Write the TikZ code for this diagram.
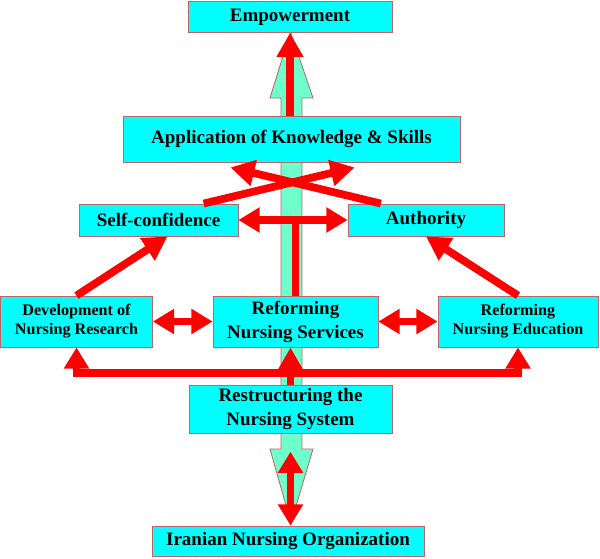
\documentclass[tikz,border=0pt]{standalone}
\usepackage{fontspec}
\setmainfont{Liberation Serif}
\usetikzlibrary{arrows.meta,calc}
\definecolor{boxcyan}{RGB}{0,255,255}
\definecolor{boxedge}{RGB}{190,100,100}
\definecolor{mint}{RGB}{110,255,205}

\begin{document}
\begin{tikzpicture}[x=0.025cm,y=-0.025cm,
  box/.style={draw=boxedge,fill=boxcyan,line width=0.6pt,inner sep=0pt,align=center,
    font=\fontsize{13.5}{17}\selectfont\bfseries},
  smallbox/.style={box,font=\fontsize{11.5}{13.5}\selectfont\bfseries},
  redline/.style={draw=red,line width=5.5pt},
  redtip/.style={redline,-{Triangle[length=17pt,width=18pt]}},
  redboth/.style={redline,{Triangle[length=15pt,width=17pt]}-{Triangle[length=15pt,width=17pt]}}]
\useasboundingbox (0,0) rectangle (600,559);
\filldraw[draw=boxedge,fill=mint,line width=0.6pt] (290.5,32) -- (313,98) -- (302,98) -- (302,449)
  -- (313,449) -- (291,523) -- (270,449) -- (281,449) -- (281,98) -- (270,98) -- cycle;
\node[box,minimum width=5.1cm,minimum height=0.775cm] (emp) at (290,17) {Empowerment};
\node[box,minimum width=8.425cm,minimum height=1.15cm] (app) at (291.5,139) {Application of Knowledge \& Skills};
\node[box,minimum width=3.975cm,minimum height=0.8cm] (self) at (158.5,220) {Self-confidence};
\node[box,minimum width=3.9cm,minimum height=0.8cm] (auth) at (426,220) {Authority};
\node[smallbox,minimum width=3.8cm,minimum height=1.275cm] (dev) at (76.5,321.5) {Development of\\Nursing Research};
\node[box,minimum width=4.125cm,minimum height=1.275cm] (serv) at (295.5,321.5) {Reforming\\Nursing Services};
\node[smallbox,minimum width=4cm,minimum height=1.275cm] (edu) at (518,321.5) {Reforming\\Nursing Education};
\node[box,minimum width=5.075cm,minimum height=1.2cm] (restr) at (290.5,409) {Restructuring the\\Nursing System};
\node[box,minimum width=6.8cm,minimum height=0.75cm] (iran) at (288,541) {Iranian Nursing Organization};
\coordinate (fork) at ($(serv.south)!0.68!(restr.north)$);
\draw[redtip] (app.north -| emp.south) -- (emp.south);
\draw[redtip] (self.20) -- ($(app.south)+(63,5)$);
\draw[redtip] (auth.160) -- ($(app.south)+(-61,5)$);
\draw[redboth] (self.east) -- (auth.west);
\draw[redline] (serv.north) -- (serv.north |- self.east);
\draw[redtip] (dev.north) -- ($(self.south)+(9,0)$);
\draw[redtip] (edu.north) -- (auth.south);
\draw[redboth] (dev.east) -- (serv.west);
\draw[redboth] (serv.east) -- (edu.west);
\draw[redtip] (restr.north) -- (serv.south -| restr.north);
\draw[redboth] (dev.south) -- (dev.south |- fork) -- (edu.south |- fork) -- (edu.south);
\draw[redboth,shorten <=13pt] (restr.south) -- (iran.north -| restr.south);
\end{tikzpicture}
\end{document}
